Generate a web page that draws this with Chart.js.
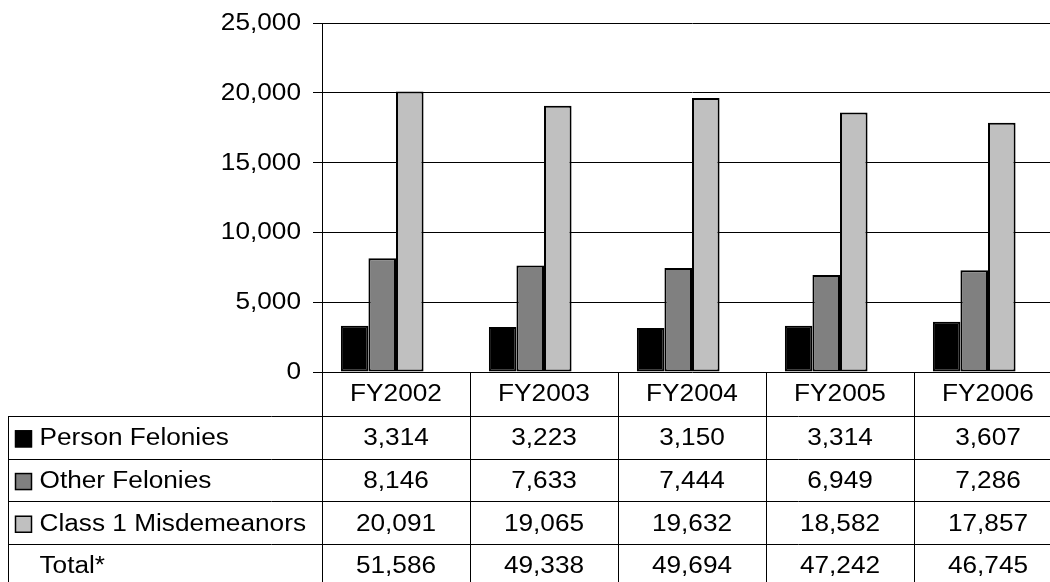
<!DOCTYPE html>
<html>
<head>
<meta charset="utf-8">
<title>Offenses by Fiscal Year</title>
<script src="https://cdn.jsdelivr.net/npm/chart.js@4/dist/chart.umd.min.js"></script>
<style>
  html, body { margin: 0; padding: 0; background: #fff; overflow: hidden; }
  #wrap { width: 1050px; height: 582px; overflow: hidden; }
  canvas { display: block; }
</style>
</head>
<body>
<div id="wrap"><canvas id="c" width="1062" height="582"></canvas></div>
<script>
// Fiscal years shown on the category axis / table header
const categories = ['FY2002', 'FY2003', 'FY2004', 'FY2005', 'FY2006'];

// Offense counts per fiscal year
const personFelonies     = [3314, 3223, 3150, 3314, 3607];
const otherFelonies      = [8146, 7633, 7444, 6949, 7286];
const class1Misdemeanors = [20091, 19065, 19632, 18582, 17857];
const totals             = [51586, 49338, 49694, 47242, 46745];

// Value axis
const yMin = 0;
const yMax = 25000;
const yStep = 5000;

const seriesNames = ['Person Felonies', 'Other Felonies', 'Class 1 Misdemeanors', 'Total*'];
const seriesFills = ['#000000', '#808080', '#c0c0c0', 'rgba(0,0,0,0)'];

const FONT = '23.5px "Liberation Sans", Arial, sans-serif';
const SX = 1.115; // horizontal text stretch

function fmt(v) { return v.toLocaleString('en-US'); }

function drawText(ctx, text, x, y, align) {
  ctx.save();
  ctx.translate(x, y);
  ctx.scale(SX, 1);
  ctx.font = FONT;
  ctx.fillStyle = '#000';
  ctx.textAlign = align;
  ctx.textBaseline = 'middle';
  ctx.fillText(text, 0, 0);
  ctx.restore();
}

// Draws the y tick labels and the data table beneath the plot
const dataTablePlugin = {
  id: 'dataTable',
  afterDraw(chart) {
    const ctx = chart.ctx;
    const area = chart.chartArea;
    const yScale = chart.scales.y;
    const catW = (area.right - area.left) / categories.length;

    // y tick labels
    yScale.ticks.forEach(t => {
      drawText(ctx, fmt(t.value), 301, yScale.getPixelForValue(t.value) + 0.5, 'right');
    });

    const headerTop = area.bottom;
    const headerBottom = 416;
    const rowH = 42.7;
    const rowValues = [personFelonies, otherFelonies, class1Misdemeanors, totals];
    const tableLeft = 8;
    const tableBottom = chart.height + 10;

    ctx.save();
    ctx.strokeStyle = '#000';
    ctx.lineWidth = 1;
    ctx.beginPath();
    // column separators
    for (let i = 0; i <= categories.length; i++) {
      const x = Math.round(area.left + i * catW) + 0.5;
      ctx.moveTo(x, headerTop);
      ctx.lineTo(x, tableBottom);
    }
    // left border of the series label column
    ctx.moveTo(tableLeft + 0.5, headerBottom);
    ctx.lineTo(tableLeft + 0.5, tableBottom);
    // row separators
    for (let r = 0; r < rowValues.length; r++) {
      const y = Math.round(headerBottom + r * rowH) + 0.5;
      ctx.moveTo(tableLeft, y);
      ctx.lineTo(chart.width, y);
    }
    ctx.stroke();
    ctx.restore();

    // header row
    categories.forEach((c, i) => {
      drawText(ctx, c, area.left + (i + 0.5) * catW, (headerTop + headerBottom) / 2 + 1, 'center');
    });

    // data rows
    rowValues.forEach((vals, r) => {
      const top = headerBottom + r * rowH;
      const cy = top + rowH / 2 + 1.5;
      if (r < 3) {
        ctx.save();
        ctx.fillStyle = seriesFills[r];
        ctx.fillRect(15, cy - 8.5, 17, 17);
        ctx.strokeStyle = '#000';
        ctx.lineWidth = 1.5;
        ctx.strokeRect(15.5, cy - 8, 16, 16);
        ctx.restore();
      }
      drawText(ctx, seriesNames[r], 39.5, cy, 'left');
      vals.forEach((v, i) => {
        drawText(ctx, fmt(v), area.left + (i + 0.5) * catW, cy, 'center');
      });
    });
  }
};

const datasets = [personFelonies, otherFelonies, class1Misdemeanors, totals].map((d, i) => ({
  label: seriesNames[i],
  data: d,
  backgroundColor: seriesFills[i],
  borderColor: i < 3 ? '#000' : 'rgba(0,0,0,0)',
  borderWidth: i < 3 ? 2 : 0,
  borderSkipped: false,
  barPercentage: 1.0,
  categoryPercentage: 0.745
}));

new Chart(document.getElementById('c'), {
  type: 'bar',
  data: { labels: categories, datasets },
  options: {
    responsive: false,
    animation: false,
    layout: { padding: { top: 23, bottom: 210, left: 0, right: 0 } },
    plugins: { legend: { display: false }, tooltip: { enabled: false } },
    scales: {
      x: { display: false },
      y: {
        min: yMin,
        max: yMax,
        ticks: { stepSize: yStep, display: false },
        grid: { color: '#000', lineWidth: 1, drawTicks: true, tickLength: 9 },
        border: { display: true, color: '#000', width: 1 },
        afterFit(scale) { scale.width = 322; }
      }
    }
  },
  plugins: [dataTablePlugin]
});
</script>
</body>
</html>
